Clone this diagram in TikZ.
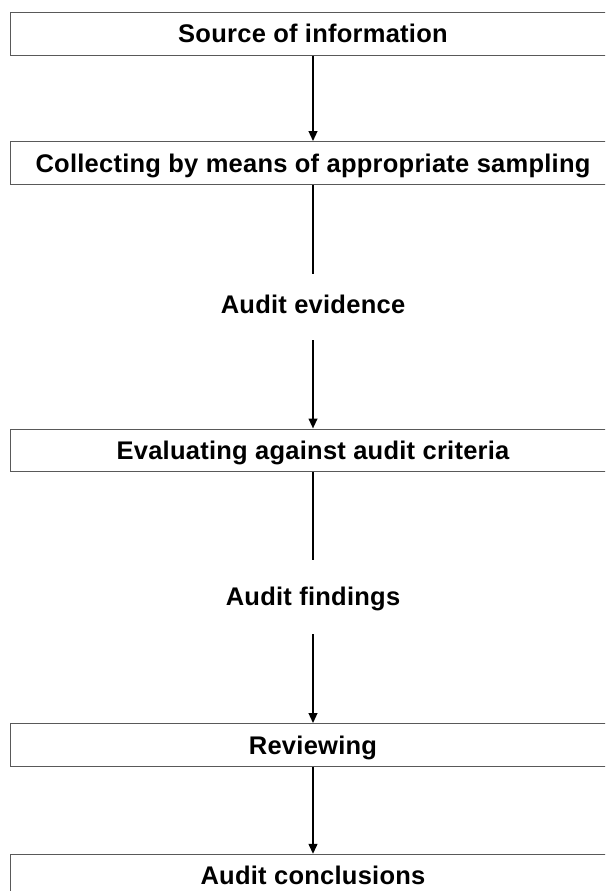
\documentclass[tikz,border=0pt]{standalone}
\usepackage{fontspec}
\setmainfont{Liberation Sans}[LetterSpace=1]
\usetikzlibrary{arrows.meta}
\begin{document}
\begin{tikzpicture}[x=1pt,y=-1pt,
  txt/.style={font=\fontsize{25.5}{30}\selectfont\bfseries},
  box/.style={txt, draw=black!65, line width=1.2pt, rectangle, minimum width=604.6pt,
    minimum height=42.5pt, inner sep=0pt, text height=18pt, text depth=0pt},
  lbl/.style={txt, inner sep=0pt, anchor=base},
  conn/.style={line width=2.2pt, draw=black},
  arr/.style={conn, -{Triangle[length=10pt,width=8.5pt]}}]
\clip (0,0) rectangle (605,891);
\fill[white] (0,0) rectangle (605,891);
\node[box] (b1) at (313,33.9) {Source of information};
\node[box] (b2) at (313,163) {Collecting by means of appropriate sampling};
\node[box] (b3) at (313,450.4) {Evaluating against audit criteria};
\node[box] (b4) at (313,745) {Reviewing};
\node[box] (b5) at (313,875.8) {Audit conclusions};
\node[lbl] (ev) at (313,313) {Audit evidence};
\node[lbl] (fi) at (313,605) {Audit findings};
\coordinate (ev1) at (313,274);
\coordinate (ev2) at (313,340);
\coordinate (fi1) at (313,560);
\coordinate (fi2) at (313,634);
\draw[arr] (b1.south) -- (b2.north);
\draw[conn] (b2.south) -- (ev1);
\draw[arr] (ev2) -- (b3.north);
\draw[conn] (b3.south) -- (fi1);
\draw[arr] (fi2) -- (b4.north);
\draw[arr] (b4.south) -- (b5.north);
\end{tikzpicture}
\end{document}
